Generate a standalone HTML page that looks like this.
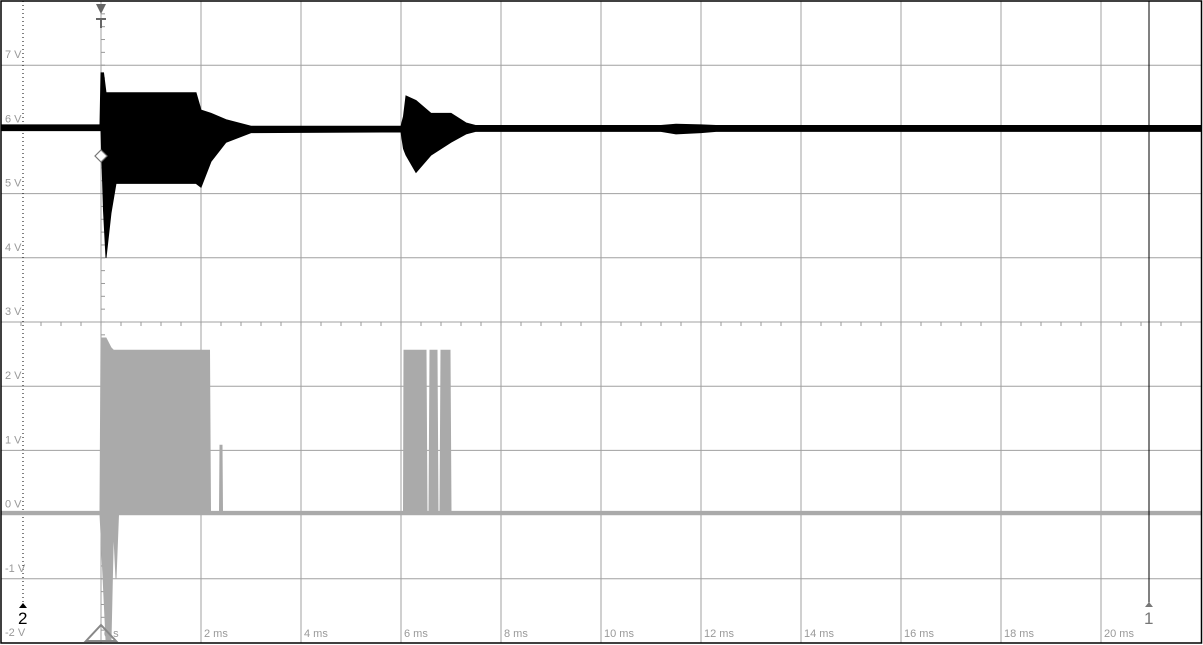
<!DOCTYPE html>
<html><head><meta charset="utf-8"><style>
html,body{margin:0;padding:0;background:#fff;}
svg{display:block;}
text{font-family:"Liberation Sans",sans-serif;font-size:11px;fill:#999;}
</style></head><body>
<svg id="scope" width="1203" height="645" viewBox="0 0 1203 645" xmlns="http://www.w3.org/2000/svg">
<rect x="0" y="0" width="1203" height="645" fill="#fff"/>
<g id="grid"></g>
<g id="labels"></g>
<g id="traces"></g>
<g id="markers"></g>
<rect x="1" y="1" width="1200.5" height="642" fill="none" stroke="#000" stroke-width="1.5"/>
</svg>
<script>
// ---- data ----
const voltTicks = [7,6,5,4,3,2,1,0,-1,-2];
const timeTicks = [2,4,6,8,10,12,14,16,18,20];
// Channel 1 (black) envelope: time (ms), upper V, lower V
const ch1T  = [-2,  -0.02, 0.0, 0.05, 0.1, 0.2, 0.3, 1.9, 2.0, 2.2, 2.5, 3.0, 6.0, 6.05, 6.1, 6.3, 6.6, 7.0, 7.3, 7.5, 11.2, 11.5, 12.0, 12.3, 22];
const ch1Hi = [6.07, 6.07, 6.88, 6.88, 6.57, 6.57, 6.57, 6.57, 6.3, 6.25, 6.15, 6.05, 6.05, 6.2, 6.52, 6.45, 6.25, 6.25, 6.1, 6.06, 6.06, 6.08, 6.07, 6.06, 6.06];
const ch1Lo = [5.98, 5.98, 5.98, 4.74, 4.0,  4.7,  5.16, 5.16, 5.1, 5.5,  5.8,  5.95, 5.96, 5.7,  5.6,  5.33, 5.6,  5.8,  5.93, 5.97, 5.97, 5.93, 5.95, 5.97, 5.97];
// Channel 2 (gray) envelope
const ch2T  = [-2,  -0.02, 0.0, 0.1, 0.2, 0.25, 0.3, 0.35, 2.17, 2.19, 2.37, 2.38, 2.42, 2.43, 6.05, 6.06, 6.5, 6.52, 6.56, 6.58, 6.72, 6.74, 6.78, 6.8, 6.98, 7.0, 22];
const ch2Hi = [0.05, 0.05, 2.75, 2.75, 2.6, 2.56, 2.56, 2.56, 2.56, 0.05, 0.05, 1.08, 1.08, 0.05, 0.05, 2.56, 2.56, 0.05, 0.05, 2.56, 2.56, 0.05, 0.05, 2.56, 2.56, 0.05, 0.05];
const ch2Lo = [0.0, 0.0, -0.3,-1.95,-1.95,-0.2,-1.0, 0.0, 0.0, 0.0, 0.0, 0.0, 0.0, 0.0, 0.0, 0.0, 0.0, 0.0, 0.0, 0.0, 0.0, 0.0, 0.0, 0.0, 0.0, 0.0, 0.0];

// ---- axes ----
const NS='http://www.w3.org/2000/svg';
const xOf = t => 101 + 50*t;
const yOf = v => 514.6 - 64.2*v;
function mk(tag, attrs, parent){const e=document.createElementNS(NS,tag);for(const k in attrs)e.setAttribute(k,attrs[k]);parent.appendChild(e);return e;}
const grid=document.getElementById('grid'), labels=document.getElementById('labels'), traces=document.getElementById('traces'), markers=document.getElementById('markers');

for(let i=1;i<12;i++){const l=mk('line',{x1:1+100*i,y1:1,x2:1+100*i,y2:643,stroke:'#a0a0a0','stroke-width':1},grid);

}
for(let i=1;i<10;i++){const y=1+64.2*i;const l=mk('line',{x1:1,y1:y,x2:1201,y2:y,stroke:'#a0a0a0','stroke-width':1},grid);

}
for(let i=0;i<60;i++){const x=1+20*i;mk('line',{x1:x,y1:322,x2:x,y2:326,stroke:'#999'},grid);}
for(let i=0;i<50;i++){const y=1+12.84*i;mk('line',{x1:101,y1:y,x2:105,y2:y,stroke:'#999'},grid);}
const dl=mk('line',{x1:23,y1:1,x2:23,y2:605,stroke:'#000','stroke-dasharray':'1,3'},grid);



voltTicks.forEach(v=>{const t=mk('text',{x:5,y:yOf(v)-7},labels);t.textContent=v+' V';

});
timeTicks.forEach(tm=>{const t=mk('text',{x:xOf(tm)+3,y:637},labels);t.textContent=tm+' ms';

});
const zt=mk('text',{x:104,y:637},labels);zt.textContent='0 s';

function env(T,H,L,color,name){
  let pts=T.map((t,i)=>xOf(t)+','+yOf(H[i]));
  for(let i=T.length-1;i>=0;i--)pts.push(xOf(T[i])+','+yOf(L[i]));
  const p=mk('polygon',{points:pts.join(' '),fill:color,stroke:color,'stroke-width':1},traces);
  
  
}
env(ch2T,ch2Hi,ch2Lo,'#aaa','ch2-trace');
env(ch1T,ch1Hi,ch1Lo,'#000','ch1-trace');

const trig=mk('polygon',{points:'96,4 106,4 101,14',fill:'#666'},markers);


mk('line',{x1:96,y1:19,x2:106,y2:19,stroke:'#666','stroke-width':2},markers);
mk('line',{x1:101,y1:19,x2:101,y2:28,stroke:'#666','stroke-width':2},markers);
const dia=mk('polygon',{points:'101,150 107,156 101,162 95,156',fill:'#fff',stroke:'#777','stroke-width':1.2},markers);


const tri=mk('polygon',{points:'86,641 101,625 116,641',fill:'none',stroke:'#888','stroke-width':2},markers);


const c1=mk('line',{x1:1149,y1:1,x2:1149,y2:606,stroke:'#000'},markers);


mk('polygon',{points:'1145,607 1153,607 1149,602',fill:'#777'},markers);
const l1=mk('text',{x:1144,y:624,style:'font-size:17px;fill:#777'},markers);l1.textContent='1';


mk('polygon',{points:'19,608 27,608 23,603',fill:'#000'},markers);
const l2=mk('text',{x:18,y:624,style:'font-size:17px;fill:#000'},markers);l2.textContent='2';


</script>
</body></html>
